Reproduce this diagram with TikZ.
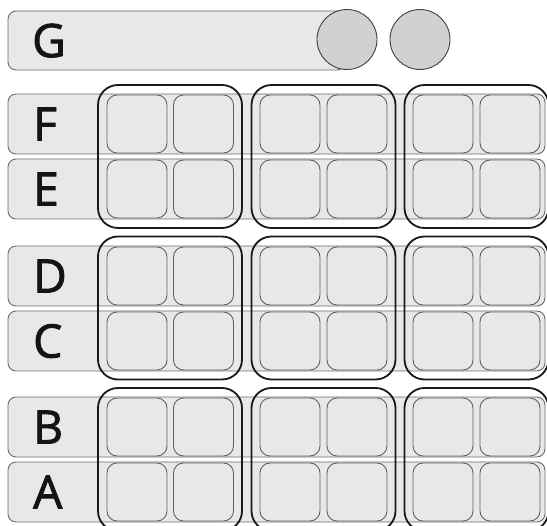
\documentclass[tikz,border=0pt]{standalone}
\usepackage{fontspec}
\setmainfont{Open Sans}
\newfontfamily\lblfont{Open Sans}[FakeBold=2]
\begin{document}
\begin{tikzpicture}[x=1pt,y=-1pt,
  rowbar/.style={draw=black!58,fill=black!9,rounded corners=8pt,line width=0.9pt,
    minimum width=537pt,minimum height=60pt,inner sep=0pt,outer sep=0pt},
  cellbox/.style={draw=black!62,fill=black!9,rounded corners=10pt,line width=0.9pt,
    minimum width=60pt,minimum height=58pt,inner sep=0pt,outer sep=0pt},
  groupbox/.style={draw=black!90,rounded corners=20pt,line width=1.8pt,
    minimum width=144pt,minimum height=143pt,inner sep=0pt,outer sep=0pt},
  knob/.style={circle,draw=black!75,fill=black!18,line width=0.9pt,
    minimum size=60pt,inner sep=0pt},
  rowlabel/.style={font=\lblfont\fontsize{46}{46}\selectfont,anchor=base west,inner sep=0pt,text=black!92}]
\useasboundingbox (0,0) rectangle (547,526);
\clip (0,0) rectangle (547,526);
% top bar with the two knobs
\node[rowbar,minimum width=337pt,minimum height=59pt] (barG) at (176.5,40.5) {};
\node[rowlabel] (lblG) at (32,40.5+16.5) {G};
\node[knob] (knobA) at (347,39.5) {};
\node[knob] (knobB) at (420,39.5) {};
% rows of cells
\foreach \lbl/\yy in {F/124,E/189,D/276,C/341,B/427,A/492}{
  \node[rowbar] (bar\lbl) at (276.5,\yy) {};
  \node[rowlabel] (lbl\lbl) at (33,\yy+16.5) {\lbl};
  \foreach \cx [count=\k] in {137,203.5,290,357,443,510}
    {\node[cellbox] (cell\lbl\k) at (\cx,\yy) {};}
}
% groups of four cells
\foreach \pair/\yy in {FE/156.5,DC/308,BA/459.5}
  \foreach \gx [count=\g] in {170,323.5,476.5}
    {\node[groupbox] (grp\pair\g) at (\gx,\yy) {};}
\end{tikzpicture}
\end{document}
